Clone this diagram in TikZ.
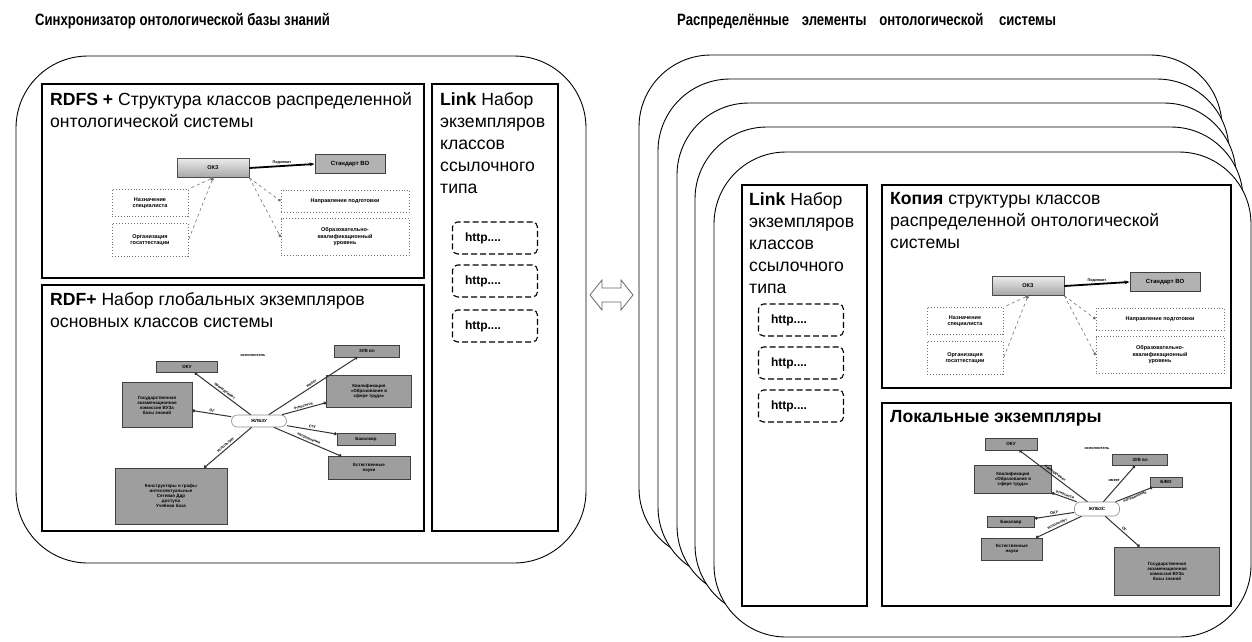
\documentclass[tikz,border=0pt]{standalone}
\usepackage{fontspec}
\setmainfont{Liberation Sans}
\newfontfamily\titlefont[FakeStretch=0.8]{Liberation Sans}
\usetikzlibrary{arrows.meta}
\newcommand\okzdiagram[1]{%
  \node[okzst, minimum width=72pt, minimum height=19pt] (#1okz) at (213,168) {ОКЗ};
  \node[sbox, fill=black!30, line width=1pt, minimum width=70pt, minimum height=19pt, font=\fontsize{6}{7}\selectfont\bfseries] (#1std) at (350,164) {Стандарт ВО};
  \node[dbox, minimum width=76pt, minimum height=27pt] (#1nazn) at (150,203) {Назначение\\специалиста};
  \node[dbox, minimum width=76pt, minimum height=33pt] (#1org) at (150,240) {Организация\\госаттестации};
  \node[dbox, minimum width=128pt, minimum height=22pt] (#1napr) at (345,201) {Направление подготовки};
  \node[dbox, minimum width=128pt, minimum height=37pt] (#1obr) at (345,237) {Образовательно-\\квалификационный\\уровень};
  \draw[-{Stealth[length=5pt]}, line width=1.8pt] (#1okz.east) -- (#1std.west) node[midway, below, elab, sloped=false]{Подлежит};
  \draw[dconn] (#1okz.south) -- (#1org.east);
  \draw[dconn] (#1okz.south) -- (#1nazn.north east);
  \draw[dconnb] (#1okz.south east) -- (#1napr.west);
  \draw[dconnb] (#1okz.south east) -- (#1obr.west);
}
\begin{document}
\begin{tikzpicture}[x=1pt,y=-1pt,
  frame/.style={draw=black, line width=0.9pt, fill=white, rounded corners=72pt},
  panel/.style={draw=black, line width=1.3pt},
  ptext/.style={anchor=north west, inner sep=0pt, align=left, font=\fontsize{17.6}{22}\selectfont},
  ttext/.style={anchor=base west, inner sep=0pt, font=\titlefont\bfseries\fontsize{16.4}{18}\selectfont},
  http/.style={draw=black, line width=1.1pt, dash pattern=on 6pt off 3pt, rounded corners=5pt, minimum width=85pt, minimum height=32pt, font=\bfseries\fontsize{12}{14}\selectfont, text width=60pt, align=left},
  sbox/.style={draw=black!75, line width=0.6pt, fill=black!38, font=\fontsize{4.5}{5}\selectfont\bfseries, align=center, inner sep=1pt},
  dbox/.style={draw=black!55, dotted, line width=0.9pt, fill=white, font=\fontsize{5.5}{6.5}\selectfont\bfseries, align=center, inner sep=1pt},
  okzst/.style={draw=black!70, line width=0.8pt, top color=black!8, bottom color=black!35, font=\fontsize{5.5}{6.5}\selectfont\bfseries},
  cnode/.style={draw=black!45, line width=0.6pt, rounded corners=6pt, fill=white, font=\fontsize{4.5}{5}\selectfont\bfseries, inner sep=1pt},
  conn/.style={draw=black!80, line width=1pt, -{Circle[length=3pt]}},
  dconn/.style={draw=black!55, dashed, line width=0.6pt, {Circle[length=3pt]}-},
  dconnb/.style={draw=black!55, dashed, line width=0.6pt, -{Circle[length=3pt]}},
  elab/.style={font=\fontsize{3.8}{4.5}\selectfont\bfseries, sloped, above, inner sep=1pt},
  blabel/.style={font=\fontsize{3.8}{4.5}\selectfont\bfseries, inner sep=0pt}
]
\useasboundingbox (0,0) rectangle (1252,641);

% titles
\node[ttext] (t1) at (35,25) {Синхронизатор онтологической базы знаний};
\node[ttext] (t2) at (677,25) {Распределённые\hspace{9pt} элементы\hspace{9pt} онтологической\hspace{12pt} системы};

% ---------------- left synchroniser ----------------
\draw[frame] (16,56) rectangle (586,563);
\draw[panel] (42,84) rectangle (424,278);
\draw[panel] (42,285) rectangle (424,531);
\draw[panel] (432,84) rectangle (558,531);

\node[ptext] (l1) at (50,92) {\textbf{RDFS +} Структура классов распределенной\\онтологической системы};
\node[ptext] (l2) at (50,292) {\textbf{RDF+} Набор глобальных экземпляров\\основных классов системы};
\node[ptext] (l3) at (440,92) {\textbf{Link} Набор\\экземпляров\\классов\\ссылочного\\типа};

\node[http] (h1) at (495,238) {http....};
\node[http] (h2) at (495,281) {http....};
\node[http] (h3) at (495,326) {http....};

\okzdiagram{a}

% global instances diagram
\node[cnode, minimum width=55pt, minimum height=12pt] (c1) at (259,421) {ЖЛБЗУ};
\node[sbox, minimum width=61pt, minimum height=11pt] (oku) at (187,367) {ОКУ};
\node[sbox, minimum width=70pt, minimum height=45pt] (gek) at (157,405) {Государственная\\экзаменационная\\комиссия ВУЗа\\базы знаний};
\node[sbox, minimum width=65pt, minimum height=12pt] (zuv) at (367,351) {ЗУВ вл};
\node[sbox, minimum width=85pt, minimum height=32pt] (kval) at (369,391) {Квалификация\\«Образование в\\сфере труда»};
\node[sbox, minimum width=58pt, minimum height=12pt] (bak) at (366,439) {Бакалавр};
\node[sbox, minimum width=82pt, minimum height=23pt] (est) at (369,468) {Естественные\\науки};
\node[sbox, minimum width=112pt, minimum height=56pt] (kon) at (171,496) {Конструкторы и графы\\интеллектуальные\\Сетевая Ддр\\доступа\\Учебная база};
\node[blabel] (isp1) at (253,355) {исполнитель};
\draw[conn] (c1) -- (oku) node[midway, elab]{принадлежит};
\draw[conn] (c1) -- (gek) node[midway, elab]{ОГ};
\draw[conn] (c1) -- (zuv) node[midway, elab]{имеет};
\draw[conn] (c1) -- (kval) node[midway, elab]{относится};
\draw[conn] (c1) -- (bak) node[midway, elab]{Сту};
\draw[conn] (c1) -- (est) node[midway, elab]{направление};
\draw[conn] (c1) -- (kon) node[midway, elab]{использует};

% double arrow
\draw[draw=black!60, line width=0.8pt, fill=white] (590,295) -- (602,280) -- (602,288) -- (621,288) -- (621,280) -- (633,295) -- (621,310) -- (621,302) -- (602,302) -- (602,310) -- cycle;

% ---------------- right distributed stack ----------------
\draw[frame] (639,55) rectangle (1222,560);
\draw[frame] (658,79) rectangle (1229,579);
\draw[frame] (677,103) rectangle (1236,598);
\draw[frame] (695,127) rectangle (1243,617);
\draw[frame] (714,152) rectangle (1251,637);

\draw[panel] (742,185) rectangle (867,606);
\draw[panel] (882,185) rectangle (1231,388);
\draw[panel] (882,403) rectangle (1231,606);

\node[ptext] (r1) at (749,192) {\textbf{Link} Набор\\экземпляров\\классов\\ссылочного\\типа};
\node[ptext] (r2) at (890,192) {\textbf{Копия} структуры классов\\распределенной онтологической\\системы};
\node[ptext] (r3) at (890,410) {\textbf{Локальные экземпляры}};

\node[http] (rh1) at (801,320) {http....};
\node[http] (rh2) at (801,363) {http....};
\node[http] (rh3) at (801,406) {http....};

\begin{scope}[shift={(815,118)}]
\okzdiagram{b}
\end{scope}

% local instances diagram
\node[cnode, minimum width=45pt, minimum height=14pt] (c2) at (1097,509) {ЖЛБЗС};
\node[sbox, minimum width=52pt, minimum height=12pt] (b1) at (1011,444) {ОКУ};
\node[sbox, minimum width=77pt, minimum height=28pt] (b2) at (1013,479) {Квалификация\\«Образование в\\сфере труда»};
\node[sbox, minimum width=55pt, minimum height=11pt] (b3) at (1140,460) {ЗУВ вл};
\node[sbox, minimum width=32pt, minimum height=10pt] (b4) at (1166,482) {Б/ВО};
\node[sbox, minimum width=47pt, minimum height=11pt] (b5) at (1011,522) {Бакалавр};
\node[sbox, minimum width=61pt, minimum height=22pt] (b6) at (1012,549) {Естественные\\науки};
\node[sbox, minimum width=105pt, minimum height=48pt] (b7) at (1167,571) {Государственная\\экзаменационная\\комиссия ВУЗа\\базы знаний};
\node[blabel] (isp2) at (1097,448) {исполнитель};
\draw[conn] (c2) -- (b1) node[midway, elab]{принадлежит};
\draw[conn] (c2) -- (b2) node[midway, elab]{относится};
\draw[conn] (c2) -- (b3) node[pos=0.6, blabel, anchor=east, xshift=-2pt]{имеет};
\draw[conn] (c2) -- (b4) node[pos=0.5, elab, below]{направление};
\draw[conn] (c2) -- (b5) node[midway, elab]{ОКУ};
\draw[conn] (c2) -- (b6) node[midway, elab]{использует};
\draw[conn] (c2) -- (b7) node[midway, elab]{ОГ};
\end{tikzpicture}
\end{document}
